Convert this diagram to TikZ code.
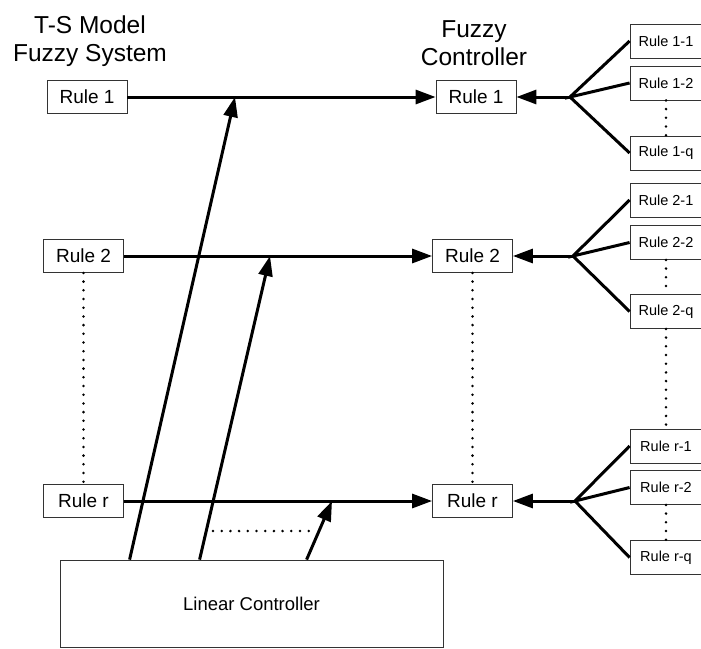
\documentclass[tikz,border=0pt]{standalone}
\usepackage{fontspec}
\setmainfont{Liberation Sans}
\usetikzlibrary{arrows.meta}
\begin{document}
\begin{tikzpicture}[x=1pt,y=-1pt,
  rulebox/.style={draw=black!80,line width=0.8pt,minimum width=80pt,minimum height=33pt,inner sep=0pt,font=\fontsize{19}{19}\selectfont},
  subbox/.style={draw=black!80,line width=0.8pt,minimum width=72pt,minimum height=34pt,inner sep=0pt,font=\fontsize{14.5}{14.5}\selectfont},
  head/.style={font=\fontsize{24.5}{24.5}\selectfont,anchor=base,inner sep=0pt},
  flow/.style={line width=3pt,-{Triangle[length=20pt,width=14pt]}},
  branch/.style={line width=3pt},
  dots/.style={line width=2.8pt,line cap=round,dash pattern=on 0pt off 8.7pt}]
\useasboundingbox (0,0) rectangle (701,648);
\node[head] (tsa) at (90,33) {T-S Model};
\node[head] (tsb) at (90,61) {Fuzzy System};
\node[head] (fca) at (474,37) {Fuzzy};
\node[head] (fcb) at (474,65) {Controller};
\node[rulebox] (t1) at (87,97) {Rule 1};
\node[rulebox] (t2) at (83.5,256) {Rule 2};
\node[rulebox] (tr) at (83.5,501) {Rule r};
\node[rulebox] (f1) at (476,97) {Rule 1};
\node[rulebox] (f2) at (472.5,256) {Rule 2};
\node[rulebox] (fr) at (472.5,501) {Rule r};
\node[subbox] (s11) at (666,41) {Rule 1-1};
\node[subbox] (s12) at (666,83) {Rule 1-2};
\node[subbox] (s1q) at (666,153) {Rule 1-q};
\node[subbox] (s21) at (666,200) {Rule 2-1};
\node[subbox] (s22) at (666,242.5) {Rule 2-2};
\node[subbox] (s2q) at (666,311.5) {Rule 2-q};
\node[subbox] (sr1) at (666,446) {Rule r-1};
\node[subbox] (sr2) at (666,487.5) {Rule r-2};
\node[subbox] (srq) at (666,557.5) {Rule r-q};
\node[draw=black!80,line width=0.8pt,minimum width=383pt,minimum height=87pt,inner sep=0pt,font=\fontsize{18.5}{18.5}\selectfont] (lc) at (251.5,603.5) {Linear Controller};
\coordinate (b1) at (570,97);
\coordinate (b2) at (573,256);
\coordinate (br) at (575,501);
\coordinate (j1) at (235,97);
\coordinate (j2) at (270,256);
\coordinate (jr) at (332,501);
\coordinate (d1) at (213,531);
\coordinate (d2) at (312,531);
\draw[flow] (t1.east) -- (f1.west);
\draw[flow] (t2.east) -- (f2.west);
\draw[flow] (tr.east) -- (fr.west);
\draw[flow] (b1) -- (f1.east);
\draw[flow] (b2) -- (f2.east);
\draw[flow] (br) -- (fr.east);
\draw[branch] (s11.west) -- (b1) -- (s12.west) (b1) -- (s1q.west);
\draw[branch] (s21.west) -- (b2) -- (s22.west) (b2) -- (s2q.west);
\draw[branch] (sr1.west) -- (br) -- (sr2.west) (br) -- (srq.west);
\draw[flow] ([xshift=70pt]lc.north west) -- (j1);
\draw[flow] ([xshift=140pt]lc.north west) -- (j2);
\draw[flow] ([xshift=247pt]lc.north west) -- (jr);
\draw[dots] (d1) -- (d2);
\draw[dots] (t2.south) -- (tr.north);
\draw[dots] (f2.south) -- (fr.north);
\draw[dots] (s12.south) -- (s1q.north);
\draw[dots] (s22.south) -- (s2q.north);
\draw[dots] (s2q.south) -- (sr1.north);
\draw[dots] (sr2.south) -- (srq.north);
\end{tikzpicture}
\end{document}
